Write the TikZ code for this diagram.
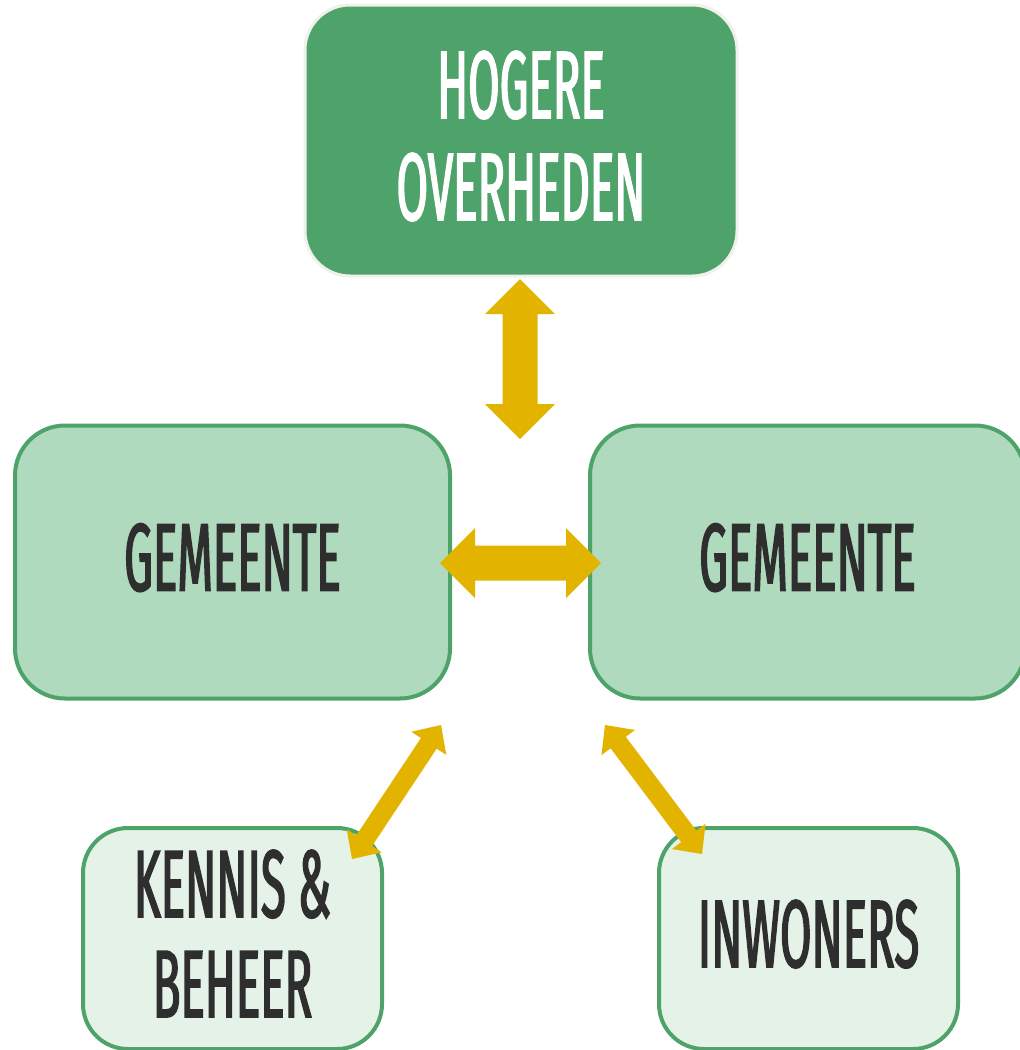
\documentclass[tikz,border=0pt]{standalone}
\usepackage{fontspec}
\newfontfamily\hand[FakeStretch=0.475,FakeBold=1.6]{Fira Sans}
\usetikzlibrary{calc}
\definecolor{dkgreen}{HTML}{4EA36A}
\definecolor{midgreen}{HTML}{AFDABE}
\definecolor{ltgreen}{HTML}{E4F2E7}
\definecolor{rimgrey}{HTML}{F1F0EB}
\definecolor{gold}{HTML}{E2B400}
\definecolor{ink}{HTML}{2E2E2E}
% double arrow polygon: #1 tip A, #2 tip B, #3 shaft half width, #4 head half width, #5 head length
\newcommand\dblarrow[5]{%
  \fill[gold]
    (#1)
    -- ($($(#1)!#5!(#2)$)!#4!90:(#2)$)
    -- ($($(#1)!#5!(#2)$)!#3!90:(#2)$)
    -- ($($(#2)!#5!(#1)$)!#3!-90:(#1)$)
    -- ($($(#2)!#5!(#1)$)!#4!-90:(#1)$)
    -- (#2)
    -- ($($(#2)!#5!(#1)$)!#4!90:(#1)$)
    -- ($($(#2)!#5!(#1)$)!#3!90:(#1)$)
    -- ($($(#1)!#5!(#2)$)!#3!-90:(#2)$)
    -- ($($(#1)!#5!(#2)$)!#4!-90:(#2)$)
    -- cycle;}
\begin{document}
\begin{tikzpicture}[x=1pt,y=-1pt,
  box/.style={rectangle, rounded corners=#1, align=center, inner sep=0pt, text depth=10pt},
  topbox/.style={box=45pt, fill=dkgreen, draw=rimgrey, line width=3pt,
    text=white, minimum width=432pt, minimum height=271pt,
    font=\hand\fontsize{96}{102}\selectfont},
  midbox/.style={box=50pt, fill=midgreen, draw=dkgreen, line width=4pt,
    text=ink, minimum width=435pt, minimum height=273pt,
    font=\hand\fontsize{96}{100}\selectfont},
  lowbox/.style={box=45pt, fill=ltgreen, draw=dkgreen, line width=4pt,
    text=ink, minimum width=299pt, minimum height=221pt,
    font=\hand\fontsize{96}{100}\selectfont}]
\useasboundingbox (0,0) rectangle (1020,1050);
\fill[white] (0,0) rectangle (1020,1050);

\node[topbox] (top) at (521,140.5) {HOGERE\\OVERHEDEN};
\node[midbox] (gl) at (232.5,562) {GEMEENTE};
\node[midbox] (gr) at (807.5,562) {GEMEENTE};
\node[lowbox] (kb) at (232.5,938.5) {KENNIS \&\\BEHEER};
\node[lowbox] (inw) at (808.5,938.5) {INWONERS};

\coordinate (v1) at (520,279);
\coordinate (v2) at (520,439);
\coordinate (h1) at (440,563);
\coordinate (h2) at (601,563);
\coordinate (l1) at (441,725);
\coordinate (l2) at (352,859);
\coordinate (r1) at (605,725);
\coordinate (r2) at (702,854);

\dblarrow{v1}{v2}{17.5pt}{35pt}{35pt}
\dblarrow{h1}{h2}{17.5pt}{35pt}{35pt}
\dblarrow{l1}{l2}{9.5pt}{21pt}{22pt}
\dblarrow{r1}{r2}{9.5pt}{21pt}{22pt}
\end{tikzpicture}
\end{document}
